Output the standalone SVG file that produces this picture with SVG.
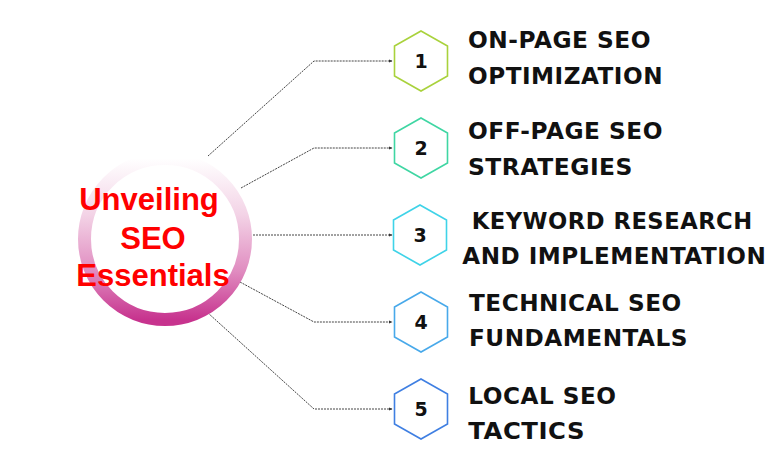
<svg xmlns="http://www.w3.org/2000/svg" width="780" height="470" viewBox="0 0 780 470">
<defs>
<linearGradient id="ring" x1="0" y1="0" x2="0" y2="1">
<stop offset="0" stop-color="#ffffff"/>
<stop offset="0.35" stop-color="#f3d3e6"/>
<stop offset="0.7" stop-color="#e08cc0"/>
<stop offset="1" stop-color="#c7338e"/>
</linearGradient>
<marker id="arr" markerWidth="4" markerHeight="4" refX="3" refY="2" orient="auto" markerUnits="userSpaceOnUse">
<path d="M0,0.5 L3.5,2 L0,3.5 Z" fill="#333"/>
</marker>
<polygon id="hex" points="0,-30 26.5,-15 26.5,15 0,30 -26.5,15 -26.5,-15"/>
</defs>
<style>
.conn{fill:none;stroke:#444;stroke-width:1;stroke-dasharray:2 1}
.hex{fill:#fff;stroke-width:1.6}
.num{font-family:"DejaVu Sans","Liberation Sans",sans-serif;font-weight:700;font-size:19px;fill:#111;text-anchor:middle}
.lbl{font-family:"DejaVu Sans","Liberation Sans",sans-serif;font-weight:700;font-size:22.5px;fill:#111;letter-spacing:0.5px}
.title{font-family:"Liberation Sans",Arial,sans-serif;font-weight:700;font-size:31px;fill:#ff0000;text-anchor:middle}
</style>
<rect width="780" height="470" fill="#fff"/>
<g id="connectors">
<path class="conn" d="M208,156 L314,61 L392,61" marker-end="url(#arr)"/>
<path class="conn" d="M241,188 L314,148 L392,148" marker-end="url(#arr)"/>
<path class="conn" d="M253,235 L392,235" marker-end="url(#arr)"/>
<path class="conn" d="M240,282 L314,322 L392,322" marker-end="url(#arr)"/>
<path class="conn" d="M208,313 L314,409 L392,409" marker-end="url(#arr)"/>
</g>
<g id="center">
<circle cx="165" cy="239" r="80.5" fill="#fff" stroke="url(#ring)" stroke-width="13"/>
<text class="title" x="149" y="210">Unveiling</text>
<text class="title" x="153" y="249">SEO</text>
<text class="title" x="153" y="286">Essentials</text>
</g>
<g id="node1">
<use href="#hex" x="421" y="61" class="hex" stroke="#a9d23c"/>
<text class="num" x="421" y="68">1</text>
<text class="lbl" x="468" y="47.5" textLength="183" lengthAdjust="spacingAndGlyphs">ON-PAGE SEO</text>
<text class="lbl" x="468" y="83.5" textLength="195" lengthAdjust="spacingAndGlyphs">OPTIMIZATION</text>
</g>
<g id="node2">
<use href="#hex" x="421" y="148" class="hex" stroke="#3fd6a3"/>
<text class="num" x="421" y="155">2</text>
<text class="lbl" x="468" y="138.5" textLength="195" lengthAdjust="spacingAndGlyphs">OFF-PAGE SEO</text>
<text class="lbl" x="468" y="174.5" textLength="165" lengthAdjust="spacingAndGlyphs">STRATEGIES</text>
</g>
<g id="node3">
<use href="#hex" x="420" y="235" class="hex" stroke="#3fd3e8"/>
<text class="num" x="420" y="242">3</text>
<text class="lbl" x="471.7" y="228.5" textLength="281" lengthAdjust="spacingAndGlyphs">KEYWORD RESEARCH</text>
<text class="lbl" x="462.3" y="263.5" textLength="304" lengthAdjust="spacingAndGlyphs">AND IMPLEMENTATION</text>
</g>
<g id="node4">
<use href="#hex" x="421" y="322" class="hex" stroke="#48a9ea"/>
<text class="num" x="421" y="329">4</text>
<text class="lbl" x="469" y="310.5" textLength="212.7" lengthAdjust="spacingAndGlyphs">TECHNICAL SEO</text>
<text class="lbl" x="469" y="345.5" textLength="219" lengthAdjust="spacingAndGlyphs">FUNDAMENTALS</text>
</g>
<g id="node5">
<use href="#hex" x="421" y="409" class="hex" stroke="#3f7fe2"/>
<text class="num" x="421" y="416">5</text>
<text class="lbl" x="468.3" y="403.5" textLength="148.3" lengthAdjust="spacingAndGlyphs">LOCAL SEO</text>
<text class="lbl" x="468.3" y="438.5" textLength="116.7" lengthAdjust="spacingAndGlyphs">TACTICS</text>
</g>
</svg>
